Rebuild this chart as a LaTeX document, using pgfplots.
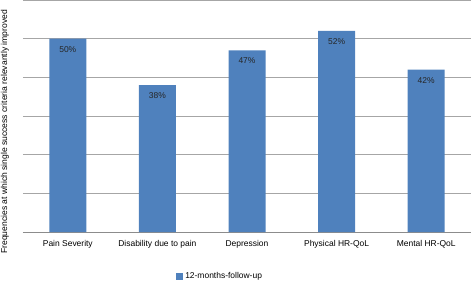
\documentclass[border=0pt]{standalone}
\usepackage{pgfplots}
\pgfplotsset{compat=1.18}
\usepackage{fontspec}
\setmainfont{Liberation Sans}
\definecolor{barblue}{HTML}{4F81BD}
\definecolor{gridgray}{HTML}{A6A6A6}
\definecolor{axgray}{HTML}{8C8C8C}
\begin{document}
\begin{tikzpicture}
\begin{axis}[
  scale only axis,
  width=448bp, height=232bp,
  at={(0,0)}, anchor=south west,
  ymin=0, ymax=60,
  xmin=-0.5, xmax=4.5,
  ytick={0,10,...,60}, yticklabels={},
  ymajorgrids, grid style={gridgray, line width=0.8pt},
  major y tick style={draw=none},
  axis y line*=left, y axis line style={draw=none},
  axis x line*=bottom, x axis line style={axgray, line width=0.8pt},
  xtick={0,1,2,3,4},
  xticklabels={Pain Severity, Disability due to pain, Depression, Physical HR-QoL, Mental HR-QoL},
  major x tick style={draw=none},
  extra x ticks={-0.5,0.5,1.5,2.5,3.5,4.5},
  extra x tick labels={},
  extra x tick style={major tick length=3bp, tick align=outside, tick style={axgray, line width=0.6pt}, grid=none},
  ticklabel style={font=\fontsize{8.5}{10}\selectfont},
  xticklabel style={yshift=-1bp},
  /pgf/number format/assume math mode=true,
  ybar, bar width=37bp,
  clip=false,
  legend style={draw=none, font=\fontsize{8.5}{10}\selectfont, at={(rel axis cs:0.44,-0.19)}, anchor=center, legend cell align=left},
  legend image code/.code={\fill[barblue] (0bp,-3.5bp) rectangle (7bp,3.5bp);},
  nodes near coords={\pgfmathprintnumber[assume math mode=true]{\pgfplotspointmeta}\%},
  every node near coord/.append style={font=\fontsize{8.5}{10}\selectfont, anchor=north, yshift=-4bp, text=black!85},
]
\addplot[fill=barblue, draw=none] coordinates {(0,50) (1,38) (2,47) (3,52) (4,42)};
\addlegendentry{12-months-follow-up}
\end{axis}
\node[rotate=90, anchor=west, font=\fontsize{8.6}{10}\selectfont, inner sep=0pt] at (-18bp,-22bp) {Frequencies at which single success criteria relevantly improved};
\pgfresetboundingbox
\useasboundingbox (-23bp,-49bp) rectangle (448bp,232bp);
\end{tikzpicture}
\end{document}
